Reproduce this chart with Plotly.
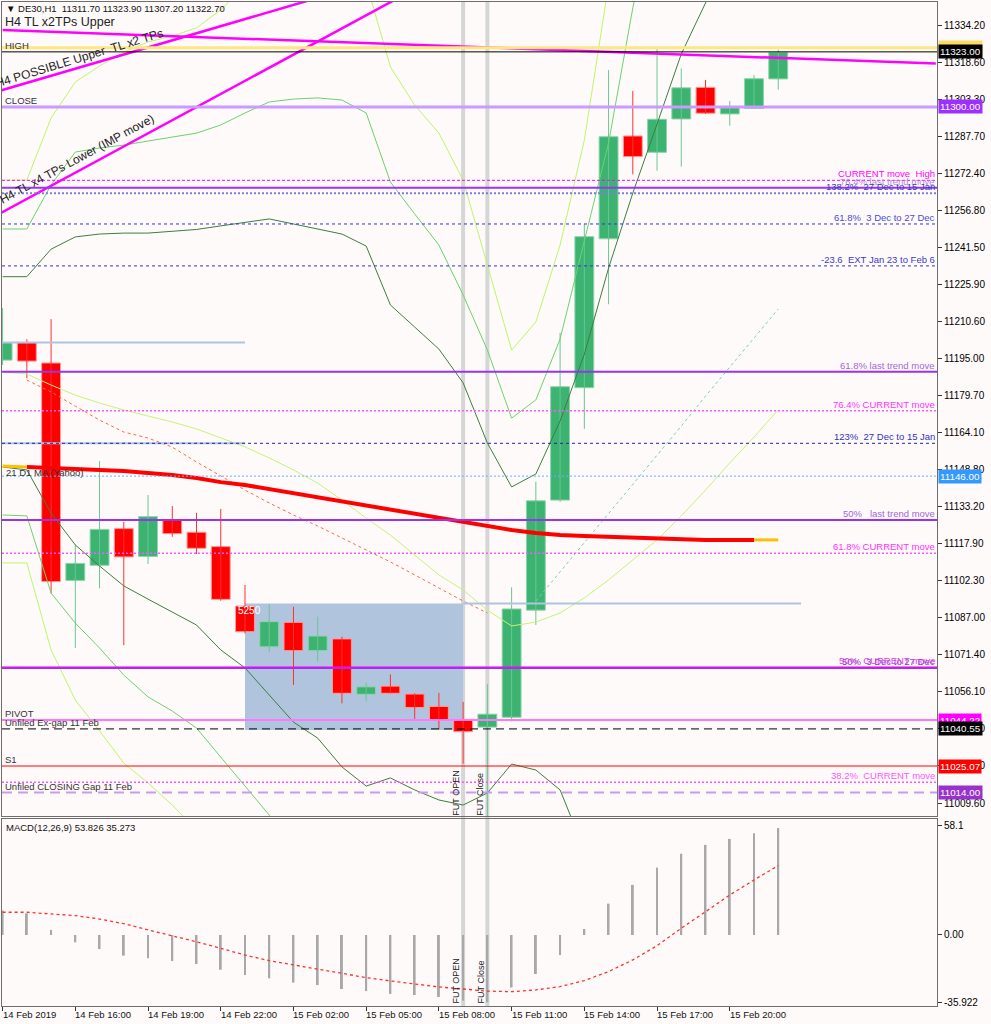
import plotly.graph_objects as go

FONT = "Liberation Sans, Arial, DejaVu Sans, sans-serif"
BG = "#FFFAFA"

# ---------------- data ----------------
bars = list(range(33))
open_ = [11194.4, 11201.7, 11193.2, 11102.5, 11108.8, 11124.1, 11112.5, 11127.7, 11122.6, 11116.6,
         11091.8, 11074.8, 11085.0, 11073.2, 11078.1, 11055.0, 11058.4, 11055.1, 11049.9, 11044.5,
         11041.3, 11045.4, 11090.1, 11136.0, 11182.9, 11245.0, 11287.9, 11281.1, 11295.0, 11308.2,
         11297.1, 11299.4, 11311.7]
high = [11216.1, 11203.1, 11211.5, 11117.3, 11152.3, 11126.9, 11138.1, 11133.5, 11130.7, 11132.3,
        11100.6, 11092.6, 11091.5, 11087.4, 11079.0, 11059.8, 11063.3, 11055.4, 11055.6, 11051.8,
        11059.2, 11099.6, 11143.7, 11205.8, 11251.2, 11315.4, 11306.7, 11324.5, 11316.1, 11311.3,
        11302.5, 11313.3, 11323.9]
low = [11192.4, 11186.8, 11097.1, 11074.3, 11099.2, 11075.5, 11109.3, 11120.7, 11113.5, 11094.0,
       11080.4, 11072.6, 11058.9, 11068.6, 11051.2, 11051.9, 11055.4, 11044.7, 11040.5, 11026.0,
       10995.0, 11043.7, 11083.9, 11135.3, 11165.7, 11217.7, 11271.9, 11273.4, 11275.1, 11297.1,
       11292.2, 11299.4, 11307.2]
close = [11201.7, 11194.0, 11102.0, 11109.6, 11123.8, 11112.3, 11129.1, 11122.0, 11115.9, 11094.6,
         11081.1, 11085.3, 11073.2, 11079.3, 11055.4, 11058.1, 11055.4, 11049.5, 11044.1, 11039.4,
         11046.7, 11090.6, 11135.7, 11183.3, 11245.9, 11287.6, 11279.3, 11294.9, 11308.0, 11297.4,
         11299.9, 11311.8, 11322.7]

# indicator lines (values per bar, starting at bar 0 unless noted)
band_dark_upper = [11229.2, 11229.2, 11240.7, 11245.8, 11247.0, 11247.4, 11247.4, 11248.3, 11248.9, 11250.4,
                   11252.0, 11253.3, 11251.2, 11249.1, 11247.0, 11242.0, 11217.4, 11208.2, 11199.0, 11184.9,
                   11159.8, 11141.5, 11146.9, 11169.0, 11196.9, 11232.8, 11264.1, 11292.9, 11322.1, 11343.4,
                   11364.7]
band_dark_lower = [11149.8, 11148.6, 11130.6, 11117.3, 11108.5, 11100.2, 11094.7, 11089.3, 11083.9, 11073.5,
                   11066.0, 11054.7, 11043.4, 11036.7, 11024.7, 11016.7, 11020.1, 11015.1, 11010.9, 11008.8,
                   11013.8, 11025.9, 11023.4, 11015.1, 10990.0]
band_mid_upper = [11249.1, 11249.1, 11267.5, 11281.2, 11282.9, 11284.1, 11285.8, 11287.5, 11289.1, 11292.5,
                  11297.5, 11302.1, 11303.3, 11303.8, 11302.9, 11297.5, 11268.7, 11255.4, 11242.4, 11221.6,
                  11198.6, 11170.2, 11177.8, 11203.2, 11243.7, 11285.0, 11341.3, 11390.5]
band_mid_lower = [11129.8, 11129.4, 11097.2, 11084.7, 11074.3, 11063.0, 11053.9, 11048.0, 11040.9, 11028.8,
                  11017.1, 11004.6, 10992.1]
band_light_upper = [11269.5, 11269.5, 11295.4, 11310.4, 11317.1, 11322.9, 11327.1, 11329.6, 11333.0, 11340.5,
                    11350.9, 11358.0, 11362.0, 11362.0, 11358.0, 11352.0, 11316.7, 11300.8, 11289.1, 11269.5,
                    11234.1, 11198.6, 11210.3, 11242.4, 11286.2, 11350.9]
band_light_lower = [11109.8, 11109.8, 11073.5, 11052.6, 11039.7, 11026.3, 11018.0, 11008.8, 10998.4]
slow_ma = [11189.4, 11188.6, 11184.0, 11179.8, 11176.5, 11173.6, 11171.1, 11168.6, 11165.7, 11161.9,
           11158.2, 11153.6, 11148.6, 11143.1, 11136.0, 11128.5, 11121.4, 11113.1, 11104.8, 11098.5,
           11090.1, 11083.5, 11085.1, 11088.9, 11095.2, 11102.7, 11111.0, 11119.4, 11129.4, 11140.2,
           11151.5, 11162.3, 11173.6]
orange_ma_start = 1
orange_ma = [11186.1, 11181.1, 11175.2, 11169.4, 11164.4, 11161.9, 11158.1, 11151.9, 11146.1, 11140.2,
             11134.8, 11129.8, 11125.2, 11120.2, 11115.2, 11110.2, 11104.8, 11099.3, 11093.9, 11088.9]
aqua_ma_start = 22
aqua_ma = [11093.9, 11106.0, 11118.1, 11130.2, 11142.7, 11154.8, 11166.9, 11179.4, 11191.5, 11203.6, 11215.7]
d1_ma = [11150.2, 11149.8, 11149.4, 11149.0, 11148.6, 11148.1, 11147.3, 11146.5, 11145.2, 11143.5,
         11142.3, 11140.6, 11139.0, 11137.3, 11135.6, 11134.0, 11132.3, 11130.6, 11128.9, 11127.3,
         11125.2, 11123.5, 11122.3, 11121.4, 11121.0, 11120.6, 11120.2, 11119.8, 11119.8, 11119.4,
         11119.4, 11119.4]

# trend lines (bar, price) end points
tl_upper_x = [0.0, 38.5]
tl_upper_y = [11332.1, 11318.1]
tl_possible_x = [-0.1, 14.0]
tl_possible_y = [11306.8, 11348.5]
tl_lower_x = [-0.1, 17.0]
tl_lower_y = [11255.6, 11349.2]

# MACD
macd_hist = [13.0, 11.5, 2.7, -3.9, -7.5, -11.0, -12.4, -13.9, -15.5, -18.5,
             -21.3, -23.1, -25.4, -26.7, -28.8, -29.9, -31.4, -32.0, -33.0, -35.0,
             -35.9, -28.0, -20.8, -10.7, 3.2, 16.7, 26.7, 35.9, 43.3, 48.0,
             51.2, 54.2, 57.0]
macd_signal = [12.1, 12.1, 11.2, 10.3, 8.5, 6.0, 2.7, -0.4, -3.6, -7.1,
               -10.7, -13.7, -16.0, -18.5, -20.6, -22.7, -24.5, -26.3, -27.7, -28.8,
               -29.9, -30.2, -29.3, -27.5, -24.3, -19.5, -13.3, -5.7, 3.6, 12.4,
               21.3, 29.3, 37.0]

# axis ticks
price_ticks = [11334.20, 11318.60, 11303.30, 11287.70, 11272.40, 11256.80, 11241.50, 11225.90,
               11210.60, 11195.00, 11179.70, 11164.10, 11148.80, 11133.20, 11117.90, 11102.30,
               11087.00, 11071.40, 11056.10, 11040.80, 11025.20, 11009.60]
time_tick_bars = [0, 3, 6, 9, 12, 15, 18, 21, 24, 27, 30]
time_tick_labels = ["14 Feb 2019", "14 Feb 16:00", "14 Feb 19:00", "14 Feb 22:00", "15 Feb 02:00",
                    "15 Feb 05:00", "15 Feb 08:00", "15 Feb 11:00", "15 Feb 14:00", "15 Feb 17:00",
                    "15 Feb 20:00"]
macd_ticks = [58.1, 0.0, -35.922]
macd_tick_labels = ["58.1", "0.00", "-35.922"]

# horizontal levels: price, right text
level_prices = [11324.70, 11323.00, 11300.00, 11269.4, 11266.3, 11264.0, 11251.2, 11233.7,
                11189.6, 11173.3, 11159.7, 11146.00, 11127.7, 11113.8, 11066.0, 11066.4,
                11044.22, 11040.55, 11025.07, 11018.3, 11014.00]
level_texts = ["", "", "", "CURRENT move  High", "76.4% last trend move", "138.2%  27 Dec to 15 Jan",
               "61.8%  3 Dec to 27 Dec", "-23.6  EXT Jan 23 to Feb 6", "61.8% last trend move",
               "76.4% CURRENT move", "123%  27 Dec to 15 Jan", "", "50%   last trend move",
               "61.8% CURRENT move", "50%  3 Dec to 27 Dec", "50%  CURRENT move", "", "", "",
               "38.2%  CURRENT move", ""]
# style per level: color, width, dash, text colour
level_styles = [
    ("#FFE680", 3, "solid", "#000"),
    ("#000000", 1, "solid", "#000"),
    ("#CC99FF", 3, "solid", "#000"),
    ("#FF00FF", 1, "3px,2px", "#FF00FF"),
    ("#9933FF", 2, "solid", "#B58AE0"),
    ("#7C7CE0", 2, "2px,2px", "#3A3AB8"),
    ("#3333CC", 1, "3px,3px", "#4B4BD1"),
    ("#3333CC", 1, "3px,3px", "#3A3AC8"),
    ("#9933EE", 2, "solid", "#A066E0"),
    ("#FF55FF", 1.5, "2px,2px", "#FF33FF"),
    ("#2222AA", 1, "3px,3px", "#3333BB"),
    ("#66B2FF", 1, "2px,2px", "#000"),
    ("#9933EE", 2, "solid", "#A066E0"),
    ("#FF55FF", 1.5, "2px,2px", "#FF33FF"),
    ("#9933EE", 2, "solid", "#7A3AE0"),
    ("#FF00FF", 1, "solid", "#E040E0"),
    ("#FF77FF", 2, "solid", "#000"),
    ("#000000", 1, "8px,5px", "#000"),
    ("#FF0000", 1, "solid", "#000"),
    ("#FF55FF", 1.5, "2px,2px", "#FF55FF"),
    ("#CC99EE", 2, "10px,6px", "#000"),
]

left_label_prices = [11323.00, 11300.00, 11044.22, 11040.55, 11025.07, 11014.00]
left_label_texts = ["HIGH", "CLOSE", "PIVOT", "Unfiled Ex-gap 11 Feb", "S1", "Unfiled CLOSING Gap 11 Feb"]

box_prices = [11324.70, 11323.00, 11300.00, 11146.00, 11044.22, 11040.55, 11025.07, 11014.00]
box_colors = ["#FFD966", "#000000", "#9B30FF", "#3399FF", "#FF00FF", "#000000", "#FF0000", "#9932CC"]

short_line_prices = [11201.7, 11159.7]   # steel-blue segments up to bar 10
rect_bars = [10, 19]
rect_prices = [11040.1, 11092.9]
rect_ext_end = 32.94
fut_bars = [19, 20]

X_RANGE = [-0.025, 38.55]
Y_RANGE = [11004.2, 11343.8]
Y2_RANGE = [-37.85, 61.83]

fig = go.Figure()

# ---------------- candles ----------------
up = [i for i in bars if close[i] >= open_[i]]
dn = [i for i in bars if close[i] < open_[i]]


def wicks(idx):
    xs, ys = [], []
    for i in idx:
        xs += [i, i, None]
        ys += [low[i], high[i], None]
    return xs, ys


for idx, col in ((up, "#6CC592"), (dn, "#FF3030")):
    wx, wy = wicks(idx)
    fig.add_trace(go.Scatter(x=wx, y=wy, mode="lines", line=dict(color=col, width=1),
                             xaxis="x", yaxis="y", hoverinfo="skip"))

for idx, col, edge in ((up, "#3CB371", "#8FD4AC"), (dn, "#FF0000", "#FF9A9A")):
    fig.add_trace(go.Bar(
        x=idx,
        y=[max(abs(close[i] - open_[i]), 0.4) for i in idx],
        base=[min(open_[i], close[i]) for i in idx],
        width=0.78, marker=dict(color=col, line=dict(color=edge, width=1)),
        xaxis="x", yaxis="y", hoverinfo="skip"))

# ---------------- indicators ----------------
def line(xs, ys, color, width=1, dash="solid"):
    fig.add_trace(go.Scatter(x=xs, y=ys, mode="lines", line=dict(color=color, width=width, dash=dash),
                             xaxis="x", yaxis="y", hoverinfo="skip"))


line(list(range(len(band_light_upper))), band_light_upper, "#BDF56A")
line(list(range(len(band_light_lower))), band_light_lower, "#BDF56A")
line(list(range(len(slow_ma))), slow_ma, "#C6F27A")
line(list(range(len(band_mid_upper))), band_mid_upper, "#6CD36C")
line(list(range(len(band_mid_lower))), band_mid_lower, "#6CD36C")
line(list(range(len(band_dark_upper))), band_dark_upper, "#3E7E3E")
line(list(range(len(band_dark_lower))), band_dark_lower, "#3E7E3E")
line(list(range(orange_ma_start, orange_ma_start + len(orange_ma))), orange_ma, "#FF6A3A", 1, "dot")
line(list(range(aqua_ma_start, aqua_ma_start + len(aqua_ma))), aqua_ma, "#7CCFB0", 1, "dot")
line(list(range(1, len(d1_ma))), d1_ma[1:], "#FF0000", 4)
line([0, 1], d1_ma[0:2], "#FFC000", 3)
line([len(d1_ma) - 1, len(d1_ma)], [d1_ma[-1], d1_ma[-1]], "#FFC000", 3)

line(tl_upper_x, tl_upper_y, "#FF00FF", 2.5)
line(tl_possible_x, tl_possible_y, "#FF00FF", 2.5)
line(tl_lower_x, tl_lower_y, "#FF00FF", 2.5)

# ---------------- MACD ----------------
fig.add_trace(go.Bar(x=bars, y=macd_hist, width=0.08, marker=dict(color="#A8A8A8", line=dict(width=0)),
                     xaxis="x2", yaxis="y2", hoverinfo="skip"))
fig.add_trace(go.Scatter(x=bars, y=macd_signal, mode="lines",
                         line=dict(color="#FF3030", width=1.3, dash="dot"),
                         xaxis="x2", yaxis="y2", hoverinfo="skip"))

# ---------------- shapes ----------------
shapes = []
shapes.append(dict(type="rect", xref="x", yref="y", x0=rect_bars[0], x1=rect_bars[1],
                   y0=rect_prices[0], y1=rect_prices[1], fillcolor="#B0C4DE",
                   line=dict(width=0), layer="below"))
for b in fut_bars:
    shapes.append(dict(type="line", xref="x", yref="paper", x0=b, x1=b, y0=0, y1=1,
                       line=dict(color="#D6D6D6", width=4), layer="below"))
for p in short_line_prices:
    shapes.append(dict(type="line", xref="x", yref="y", x0=X_RANGE[0], x1=rect_bars[0], y0=p, y1=p,
                       line=dict(color="#B0C4DE", width=2), layer="above"))
shapes.append(dict(type="line", xref="x", yref="y", x0=rect_bars[1], x1=rect_ext_end,
                   y0=rect_prices[1], y1=rect_prices[1],
                   line=dict(color="#B0C4DE", width=2), layer="above"))
for p, (col, w, dash, _) in zip(level_prices, level_styles):
    shapes.append(dict(type="line", xref="paper", yref="y", x0=0, x1=1, y0=p, y1=p,
                       line=dict(color=col, width=w, dash=dash), layer="above"))

# ---------------- annotations ----------------
anns = []


def txt(text, x, y, xref, yref, size=9.5, color="#222", **kw):
    d = dict(text=text, x=x, y=y, xref=xref, yref=yref, showarrow=False,
             font=dict(family=FONT, size=size, color=color))
    d.update(kw)
    anns.append(d)


for p, t, st in zip(level_prices, level_texts, level_styles):
    if t:
        txt(t, 1, p, "paper", "y", color=st[3], xanchor="right", yanchor="bottom", xshift=-1, borderpad=0)
for p, t in zip(left_label_prices, left_label_texts):
    txt(t, 0, p, "paper", "y", color="#333", xanchor="left", yanchor="bottom", xshift=2, borderpad=0)
txt("21 D1 MA (Yahoo)", 0, 11147.7, "paper", "y", color="#333", xanchor="left", yanchor="middle", xshift=2)

for p, c in zip(box_prices, box_colors):
    txt(f"{p:.2f}", 1, p, "paper", "y", size=9.8, color="#FFFFFF", xanchor="left", yanchor="middle",
        xshift=1, bgcolor=c, borderpad=1)

txt("\u25bc DE30,H1  11311.70 11323.90 11307.20 11322.70", 0, 1, "paper", "paper", color="#111",
    xanchor="left", yanchor="top", xshift=2, yshift=1)
txt("H4 TL x2TPs Upper", 0, 1, "paper", "paper", size=12.5, color="#222",
    xanchor="left", yanchor="top", xshift=1, yshift=-11)
txt("H4 POSSIBLE Upper  TL x2 TPs", 3.19, 11320.4, "x", "y", size=12, color="#222",
    xanchor="center", yanchor="middle", textangle=-17)
txt("H4 TL x4 TPs Lower (IMP move)", 3.07, 11278.3, "x", "y", size=12, color="#222",
    xanchor="center", yanchor="middle", textangle=-28.5)
txt("5250", 10.17, 11090.1, "x", "y", size=10, color="#FFFFFF", xanchor="center", yanchor="middle")

txt("FUT OPEN", fut_bars[0], 11013.8, "x", "y", size=9, color="#222", textangle=-90,
    xanchor="center", yanchor="middle", xshift=-7.5)
txt("FUT Close", fut_bars[1], 11013.4, "x", "y", size=9, color="#222", textangle=-90,
    xanchor="center", yanchor="middle", xshift=-7.5)
txt("FUT OPEN", fut_bars[0], -24.5, "x2", "y2", size=9, color="#222", textangle=-90,
    xanchor="center", yanchor="middle", xshift=-7.5)
txt("FUT Close", fut_bars[1], -24.8, "x2", "y2", size=9, color="#222", textangle=-90,
    xanchor="center", yanchor="middle", xshift=-6.5)

txt("MACD(12,26,9) 53.826 35.273", 0, Y2_RANGE[1], "paper", "y2", color="#111",
    xanchor="left", yanchor="top", xshift=2, yshift=-1)

for b, lab in zip(time_tick_bars, time_tick_labels):
    txt(lab, b, 0, "x2", "paper", color="#111", xanchor="left", yanchor="top", xshift=-2, yshift=-1)

FRAME = "#6E6E6E"
fig.update_layout(
    width=991, height=1024, autosize=False,
    margin=dict(l=2, r=54, t=2, b=18),
    paper_bgcolor=BG, plot_bgcolor=BG,
    showlegend=False, hovermode=False, barmode="overlay",
    font=dict(family=FONT, size=10, color="#000"),
    shapes=shapes, annotations=anns,
    xaxis=dict(domain=[0, 1], range=X_RANGE, anchor="y", showticklabels=False, ticks="",
               showgrid=False, zeroline=False, showline=True, mirror=True, linecolor=FRAME, linewidth=1),
    yaxis=dict(domain=[0.1892, 1], range=Y_RANGE, side="right", anchor="x",
               tickvals=price_ticks, ticktext=[f"{v:.2f}" for v in price_ticks],
               ticks="outside", ticklen=4, tickcolor="#333", tickfont=dict(size=10, family=FONT),
               showgrid=False, zeroline=False, showline=True, mirror=True, linecolor=FRAME, linewidth=1),
    xaxis2=dict(domain=[0, 1], range=X_RANGE, anchor="y2", showticklabels=False,
                tickvals=time_tick_bars, ticks="outside", ticklen=4, tickcolor="#333",
                showgrid=False, zeroline=False, showline=True, mirror=True, linecolor=FRAME, linewidth=1),
    yaxis2=dict(domain=[0, 0.1863], range=Y2_RANGE, side="right", anchor="x2",
                tickvals=macd_ticks, ticktext=macd_tick_labels,
                ticks="outside", ticklen=4, tickcolor="#333", tickfont=dict(size=10, family=FONT),
                showgrid=False, zeroline=False, showline=True, mirror=True, linecolor=FRAME, linewidth=1),
)

fig.write_html("out.html", config={"displayModeBar": False},
               post_script="document.body.style.margin='0';document.body.style.overflow='hidden';")
